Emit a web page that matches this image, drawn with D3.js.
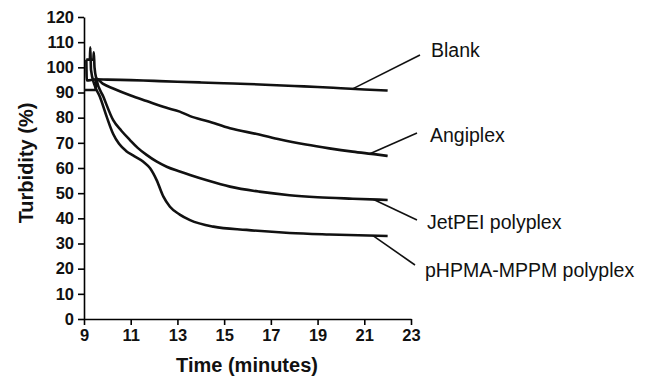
<!DOCTYPE html>
<html>
<head>
<meta charset="utf-8">
<script src="https://cdn.jsdelivr.net/npm/d3@7"></script>
<style>
  body { margin: 0; background: #fff; }
  svg { display: block; font-family: "Liberation Sans", Arial, sans-serif; }
</style>
</head>
<body>
<svg id="chart" width="649" height="379"></svg>
<script>
// x ticks (minutes) and y ticks (%)
var xTicks = [9, 11, 13, 15, 17, 19, 21, 23];
var yTicks = [0, 10, 20, 30, 40, 50, 60, 70, 80, 90, 100, 110, 120];

// series
var blankTime = [9.1, 9.12, 9.5, 10, 11, 12, 13, 14, 15, 16, 17, 18, 19, 20, 21, 22];
var blankValue = [103, 94.8, 95.2, 95.1, 94.9, 94.6, 94.3, 94.0, 93.7, 93.4, 93.0, 92.6, 92.2, 91.7, 91.2, 90.8];

var angiTime = [9.0, 9.5, 9.52, 9.8, 10.25, 11, 11.68, 12.5, 13.1, 13.54, 14.3, 15.25, 16.5, 17.4, 18.5, 19.5, 20.5, 21.5, 22];
var angiValue = [91, 91, 95.5, 93.5, 91.6, 88.8, 86.6, 84.0, 82.4, 80.6, 78.6, 75.8, 73.3, 71.3, 69.3, 67.8, 66.5, 65.4, 64.8];

var jetTime = [9.1, 9.4, 9.42, 9.45, 9.54, 9.83, 10.25, 10.6, 10.97, 11.3, 11.68, 12.1, 12.54, 13.1, 13.54, 14.3, 15.25, 16.5, 17.8, 19, 20.5, 22];
var jetValue = [103, 103, 106, 100, 95, 88.3, 79, 74.8, 71.1, 68, 65.2, 62.6, 60.5, 58.6, 57.2, 55, 52.6, 50.6, 49.2, 48.4, 47.8, 47.3];

var phpTime = [9.1, 9.25, 9.27, 9.3, 9.45, 9.68, 9.97, 10.25, 10.5, 10.8, 11.1, 11.54, 11.83, 12.11, 12.4, 12.68, 13.1, 13.54, 14.54, 15.96, 17.8, 19.5, 22];
var phpValue = [103, 103, 108, 99, 93, 88.3, 80.4, 73.5, 69.6, 66.8, 65.0, 62.5, 59.9, 55.2, 48.6, 44.6, 41.5, 39.3, 36.7, 35.4, 34.2, 33.6, 33.0];

var seriesNames = ["Blank", "Angiplex", "JetPEI polyplex", "pHPMA-MPPM polyplex"];
var seriesTimes = [blankTime, angiTime, jetTime, phpTime];
var seriesValues = [blankValue, angiValue, jetValue, phpValue];
// time where each leader line touches its curve
var leaderTime = [20.5, 21.24, 21.4, 21.37];

var svg = d3.select("#chart");

var x = d3.scaleLinear().domain([9, 23]).range([84, 411]);
var y = d3.scaleLinear().domain([0, 120]).range([319, 17]);

var line = d3.line()
    .curve(d3.curveMonotoneX)
    .x(function (d) { return x(d[0]); })
    .y(function (d) { return y(d[1]); });

// axes
var gx = svg.append("g")
    .attr("transform", "translate(0," + y(0) + ")")
    .call(d3.axisBottom(x).tickValues(xTicks).tickSize(6).tickPadding(4).tickSizeOuter(0));
var gy = svg.append("g")
    .attr("transform", "translate(" + x(9) + ",0)")
    .call(d3.axisLeft(y).tickValues(yTicks).tickSize(6).tickPadding(4).tickSizeOuter(0));

[gx, gy].forEach(function (g) {
    g.selectAll("path, line").attr("stroke", "#000").attr("stroke-width", 1.6);
    g.selectAll("text")
        .attr("fill", "#111")
        .style("font-family", "'Liberation Sans', Arial, sans-serif")
        .style("font-size", "16.5px")
        .style("font-weight", "bold");
});

// curves
seriesTimes.forEach(function (times, i) {
    var pts = times.map(function (t, j) { return [t, seriesValues[i][j]]; });
    svg.append("path")
        .datum(pts)
        .attr("fill", "none")
        .attr("stroke", "#111")
        .attr("stroke-width", 2.6)
        .attr("stroke-linejoin", "round")
        .attr("d", line);
});

// labels with leader lines
var labelX = [431, 430, 427, 425];
var labelY = [56.5, 141.5, 228.5, 276.5];
var leaderEnd = [[420, 55], [417, 133], [417, 220], [415, 265]];

seriesNames.forEach(function (name, i) {
    var t = leaderTime[i];
    var v = d3.scaleLinear().domain(seriesTimes[i]).range(seriesValues[i])(t);
    svg.append("line")
        .attr("x1", x(t)).attr("y1", y(v))
        .attr("x2", leaderEnd[i][0]).attr("y2", leaderEnd[i][1])
        .attr("stroke", "#111")
        .attr("stroke-width", 1.6);
    svg.append("text")
        .attr("x", labelX[i])
        .attr("y", labelY[i])
        .attr("fill", "#111")
        .style("font-size", "19.5px")
        .text(name);
});

// axis titles
svg.append("text")
    .attr("x", 247)
    .attr("y", 372)
    .attr("text-anchor", "middle")
    .attr("fill", "#111")
    .style("font-size", "20px")
    .style("font-weight", "bold")
    .text("Time (minutes)");

svg.append("text")
    .attr("transform", "translate(33,163) rotate(-90)")
    .attr("text-anchor", "middle")
    .attr("fill", "#111")
    .style("font-size", "20px")
    .style("font-weight", "bold")
    .text("Turbidity (%)");
</script>
</body>
</html>
